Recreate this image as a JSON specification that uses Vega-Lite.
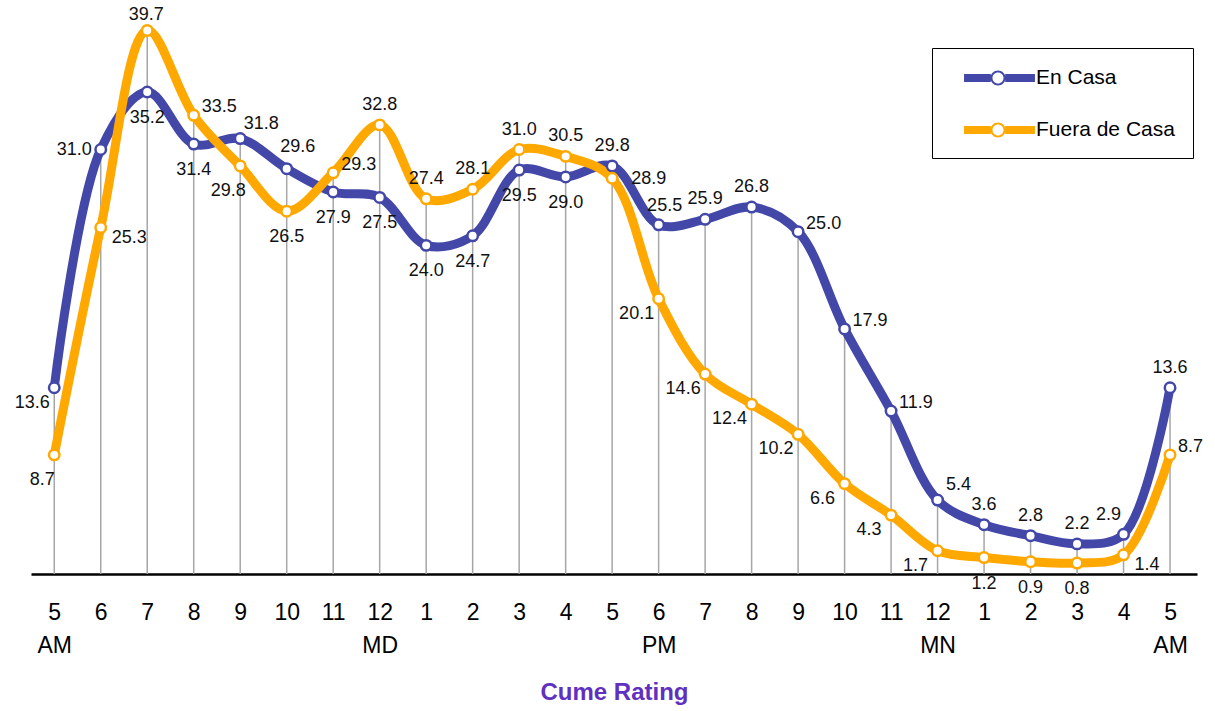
{
  "$schema": "https://vega.github.io/schema/vega-lite/v6.json",
  "autosize": {"type": "none"},
  "padding": {"left": 31, "top": 0, "right": 18, "bottom": 137},
  "width": 1166,
  "height": 574,
  "background": "white",
  "config": {
    "view": {"stroke": null},
    "font": "Liberation Sans, Arial, sans-serif"
  },
  "data": {
    "values": [
      {"i": 0, "s": "En Casa", "v": 13.6}, {"i": 1, "s": "En Casa", "v": 31.0}, {"i": 2, "s": "En Casa", "v": 35.2},
      {"i": 3, "s": "En Casa", "v": 31.4}, {"i": 4, "s": "En Casa", "v": 31.8}, {"i": 5, "s": "En Casa", "v": 29.6},
      {"i": 6, "s": "En Casa", "v": 27.9}, {"i": 7, "s": "En Casa", "v": 27.5}, {"i": 8, "s": "En Casa", "v": 24.0},
      {"i": 9, "s": "En Casa", "v": 24.7}, {"i": 10, "s": "En Casa", "v": 29.5}, {"i": 11, "s": "En Casa", "v": 29.0},
      {"i": 12, "s": "En Casa", "v": 29.8}, {"i": 13, "s": "En Casa", "v": 25.5}, {"i": 14, "s": "En Casa", "v": 25.9},
      {"i": 15, "s": "En Casa", "v": 26.8}, {"i": 16, "s": "En Casa", "v": 25.0}, {"i": 17, "s": "En Casa", "v": 17.9},
      {"i": 18, "s": "En Casa", "v": 11.9}, {"i": 19, "s": "En Casa", "v": 5.4}, {"i": 20, "s": "En Casa", "v": 3.6},
      {"i": 21, "s": "En Casa", "v": 2.8}, {"i": 22, "s": "En Casa", "v": 2.2}, {"i": 23, "s": "En Casa", "v": 2.9},
      {"i": 24, "s": "En Casa", "v": 13.6},
      {"i": 0, "s": "Fuera de Casa", "v": 8.7}, {"i": 1, "s": "Fuera de Casa", "v": 25.3}, {"i": 2, "s": "Fuera de Casa", "v": 39.7},
      {"i": 3, "s": "Fuera de Casa", "v": 33.5}, {"i": 4, "s": "Fuera de Casa", "v": 29.8}, {"i": 5, "s": "Fuera de Casa", "v": 26.5},
      {"i": 6, "s": "Fuera de Casa", "v": 29.3}, {"i": 7, "s": "Fuera de Casa", "v": 32.8}, {"i": 8, "s": "Fuera de Casa", "v": 27.4},
      {"i": 9, "s": "Fuera de Casa", "v": 28.1}, {"i": 10, "s": "Fuera de Casa", "v": 31.0}, {"i": 11, "s": "Fuera de Casa", "v": 30.5},
      {"i": 12, "s": "Fuera de Casa", "v": 28.9}, {"i": 13, "s": "Fuera de Casa", "v": 20.1}, {"i": 14, "s": "Fuera de Casa", "v": 14.6},
      {"i": 15, "s": "Fuera de Casa", "v": 12.4}, {"i": 16, "s": "Fuera de Casa", "v": 10.2}, {"i": 17, "s": "Fuera de Casa", "v": 6.6},
      {"i": 18, "s": "Fuera de Casa", "v": 4.3}, {"i": 19, "s": "Fuera de Casa", "v": 1.7}, {"i": 20, "s": "Fuera de Casa", "v": 1.2},
      {"i": 21, "s": "Fuera de Casa", "v": 0.9}, {"i": 22, "s": "Fuera de Casa", "v": 0.8}, {"i": 23, "s": "Fuera de Casa", "v": 1.4},
      {"i": 24, "s": "Fuera de Casa", "v": 8.7}
    ]
  },
  "encoding": {
    "x": {
      "field": "i", "type": "quantitative",
      "scale": {"domain": [-0.5, 24.58], "nice": false, "zero": false},
      "axis": {
        "values": [0,1,2,3,4,5,6,7,8,9,10,11,12,13,14,15,16,17,18,19,20,21,22,23,24],
        "labelExpr": "datum.value==0||datum.value==24 ? ['5','AM'] : datum.value==7 ? ['12','MD'] : datum.value==13 ? ['6','PM'] : datum.value==19 ? ['12','MN'] : '' + (((datum.value+4)%12)+1)",
        "grid": false, "ticks": false,
        "domainColor": "#000000", "domainWidth": 2.5,
        "labelFontSize": 23, "labelColor": "#000000", "labelPadding": 27,
        "labelLineHeight": 33, "labelOverlap": false, "labelFlush": false, "labelBound": false,
        "title": "Cume Rating", "titleFontSize": 24, "titleFontWeight": "bold", "titleColor": "#6030c0",
        "titlePadding": 23
      }
    },
    "y": {
      "field": "v", "type": "quantitative",
      "scale": {"domain": [0, 41.92], "nice": false, "zero": true},
      "axis": null
    }
  },
  "layer": [
    {
      "transform": [{"aggregate": [{"op": "max", "field": "v", "as": "vmax"}], "groupby": ["i"]}],
      "mark": {"type": "rule", "color": "#a6a6a6", "strokeWidth": 1.5},
      "encoding": {
        "y": {"field": "vmax", "type": "quantitative"},
        "y2": {"datum": 0}
      }
    },
    {
      "mark": {"type": "line", "interpolate": "catmull-rom", "strokeWidth": 9, "strokeCap": "round", "strokeJoin": "round"},
      "encoding": {
        "color": {
          "field": "s", "type": "nominal",
          "scale": {"domain": ["En Casa", "Fuera de Casa"], "range": ["#4348a8", "#ffa800"]},
          "legend": {
            "title": null, "orient": "none", "legendX": 901, "legendY": 48,
            "symbolType": "M0.17,-0.33 L2.4,-0.33 L2.4,0.33 L0.17,0.33 Z M3.6,-0.33 L6.08,-0.33 L6.08,0.33 L3.6,0.33 Z M3.625,0 A0.625,0.625 0 1 1 2.375,0 A0.625,0.625 0 1 1 3.625,0 Z M3.46,0 A0.46,0.46 0 1 0 2.54,0 A0.46,0.46 0 1 0 3.46,0 Z",
            "symbolSize": 576,
            "labelOffset": 62,
            "labelFontSize": 21, "labelColor": "#000000", "labelLimit": 300,
            "rowPadding": 30, "padding": 18,
            "strokeColor": "#000000", "fillColor": "#ffffff",
            "encode": {
              "symbols": {"update": {"fill": {"scale": "color", "field": "value"}, "strokeWidth": {"value": 0}, "opacity": {"value": 1}, "fillOpacity": {"value": 1}}}
            }
          }
        }
      }
    },
    {
      "mark": {"type": "point", "shape": "circle", "filled": true, "fill": "#ffffff", "size": 110, "strokeWidth": 2.5, "opacity": 1},
      "encoding": {
        "stroke": {
          "field": "s", "type": "nominal",
          "scale": {"domain": ["En Casa", "Fuera de Casa"], "range": ["#4348a8", "#ffa800"]},
          "legend": null
        }
      }
    },
    {
      "transform": [{"filter": "(datum.s=='En Casa' && indexof([12,14,15,20,21,22,24], datum.i)>=0) || (datum.s=='Fuera de Casa' && indexof([7,8,9,10,11], datum.i)>=0)"}],
      "mark": {"type": "text", "fontSize": 18, "color": "#111111", "align": "center", "baseline": "middle", "dx": 0, "dy": -20},
      "encoding": {"text": {"field": "v", "type": "quantitative", "format": ".1f"}}
    },
    {
      "transform": [{"filter": "datum.s=='Fuera de Casa' && datum.i==2"}],
      "mark": {"type": "text", "fontSize": 18, "color": "#111111", "align": "center", "baseline": "middle", "dx": -1, "dy": -15},
      "encoding": {"text": {"field": "v", "type": "quantitative", "format": ".1f"}}
    },
    {
      "transform": [{"filter": "(datum.s=='En Casa' && indexof([2,3,6,7,8,9,10,11], datum.i)>=0) || (datum.s=='Fuera de Casa' && indexof([5,20,21,22], datum.i)>=0)"}],
      "mark": {"type": "text", "fontSize": 18, "color": "#111111", "align": "center", "baseline": "middle", "dx": 0, "dy": 26},
      "encoding": {"text": {"field": "v", "type": "quantitative", "format": ".1f"}}
    },
    {
      "transform": [{"filter": "(datum.s=='En Casa' && indexof([16,17,18], datum.i)>=0) || (datum.s=='Fuera de Casa' && indexof([3,6,24], datum.i)>=0)"}],
      "mark": {"type": "text", "fontSize": 18, "color": "#111111", "align": "left", "baseline": "middle", "dx": 8, "dy": -8},
      "encoding": {"text": {"field": "v", "type": "quantitative", "format": ".1f"}}
    },
    {
      "transform": [{"filter": "datum.s=='Fuera de Casa' && datum.i==12"}],
      "mark": {"type": "text", "fontSize": 18, "color": "#111111", "align": "left", "baseline": "middle", "dx": 19, "dy": 1},
      "encoding": {"text": {"field": "v", "type": "quantitative", "format": ".1f"}}
    },
    {
      "transform": [{"filter": "datum.s=='Fuera de Casa' && indexof([1,23], datum.i)>=0"}],
      "mark": {"type": "text", "fontSize": 18, "color": "#111111", "align": "left", "baseline": "middle", "dx": 11, "dy": 10},
      "encoding": {"text": {"field": "v", "type": "quantitative", "format": ".1f"}}
    },
    {
      "transform": [{"filter": "datum.s=='En Casa' && indexof([4,19], datum.i)>=0"}],
      "mark": {"type": "text", "fontSize": 18, "color": "#111111", "align": "center", "baseline": "middle", "dx": 21, "dy": -15},
      "encoding": {"text": {"field": "v", "type": "quantitative", "format": ".1f"}}
    },
    {
      "transform": [{"filter": "datum.s=='En Casa' && datum.i==5"}],
      "mark": {"type": "text", "fontSize": 18, "color": "#111111", "align": "center", "baseline": "middle", "dx": 11, "dy": -22},
      "encoding": {"text": {"field": "v", "type": "quantitative", "format": ".1f"}}
    },
    {
      "transform": [{"filter": "datum.s=='En Casa' && datum.i==13"}],
      "mark": {"type": "text", "fontSize": 18, "color": "#111111", "align": "center", "baseline": "middle", "dx": 6, "dy": -19},
      "encoding": {"text": {"field": "v", "type": "quantitative", "format": ".1f"}}
    },
    {
      "transform": [{"filter": "(datum.s=='En Casa' && datum.i==0) || (datum.s=='Fuera de Casa' && indexof([13,14,15,16,17,18,19], datum.i)>=0)"}],
      "mark": {"type": "text", "fontSize": 18, "color": "#111111", "align": "center", "baseline": "middle", "dx": -22, "dy": 15},
      "encoding": {"text": {"field": "v", "type": "quantitative", "format": ".1f"}}
    },
    {
      "transform": [{"filter": "datum.s=='Fuera de Casa' && indexof([0,4], datum.i)>=0"}],
      "mark": {"type": "text", "fontSize": 18, "color": "#111111", "align": "center", "baseline": "middle", "dx": -12, "dy": 25},
      "encoding": {"text": {"field": "v", "type": "quantitative", "format": ".1f"}}
    },
    {
      "transform": [{"filter": "datum.s=='En Casa' && datum.i==1"}],
      "mark": {"type": "text", "fontSize": 18, "color": "#111111", "align": "right", "baseline": "middle", "dx": -9, "dy": 0},
      "encoding": {"text": {"field": "v", "type": "quantitative", "format": ".1f"}}
    },
    {
      "transform": [{"filter": "datum.s=='En Casa' && datum.i==23"}],
      "mark": {"type": "text", "fontSize": 18, "color": "#111111", "align": "center", "baseline": "middle", "dx": -15, "dy": -19},
      "encoding": {"text": {"field": "v", "type": "quantitative", "format": ".1f"}}
    }
  ]
}
